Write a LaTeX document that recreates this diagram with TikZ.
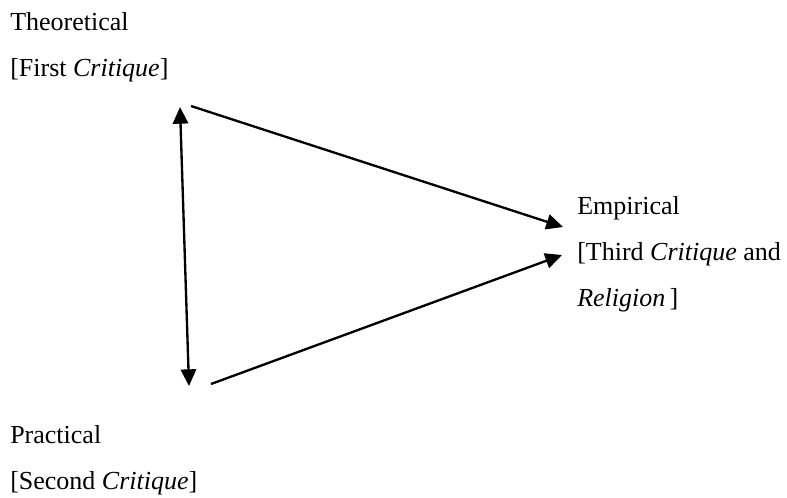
\documentclass[tikz,border=0pt]{standalone}
\usepackage{fontspec}
\setmainfont{Liberation Serif}
\usetikzlibrary{arrows.meta}
\begin{document}
\begin{tikzpicture}[x=0.75pt,y=-0.75pt,
    lbl/.style={anchor=base west,inner sep=0pt,font=\fontsize{19.5}{23}\selectfont},
    arr/.style={-{Triangle[length=12.5pt,width=11.5pt]},line width=1.75pt},
    darr/.style={{Triangle[length=12.5pt,width=11.5pt]}-{Triangle[length=12.5pt,width=11.5pt]},line width=1.75pt}]
\useasboundingbox (0,0) rectangle (787,497);

    % Teorico
    \node[lbl] (theo) at (10,30) {Theoretical};
    \node[lbl] (theoCrit) at (10,76) {[First \textit{Critique}]};

    % Empirico
    \node[lbl] (emp) at (577,214) {Empirical};
    \node[lbl] (empCrit) at (577,260) {[Third \textit{Critique} and};
    \node[lbl] (empRel) at (577,306) {\textit{Religion}\,]};

    % Practico
    \node[lbl] (prac) at (10,443) {Practical};
    \node[lbl] (pracCrit) at (10,489) {[Second \textit{Critique}]};

    % Extremos de las flechas
    \coordinate (theoTip) at (180,107);
    \coordinate (pracTip) at (189,386);
    \coordinate (theoOut) at (191,106);
    \coordinate (pracOut) at (211,384);
    \coordinate (empInA) at (563,227);
    \coordinate (empInB) at (562,255);

    % Flechas
    \draw[darr] (theoTip) -- (pracTip);
    \draw[arr] (theoOut) -- (empInA);
    \draw[arr] (pracOut) -- (empInB);

\end{tikzpicture}
\end{document}
